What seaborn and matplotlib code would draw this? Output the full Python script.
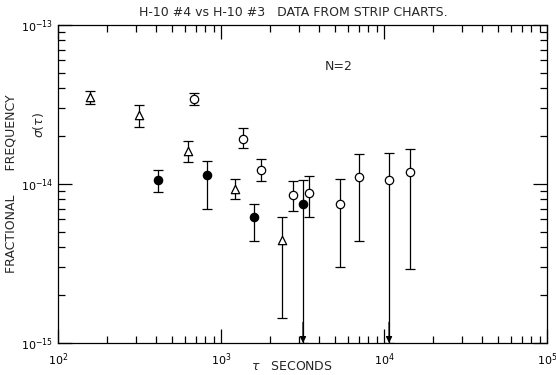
import numpy as np
import pandas as pd
import matplotlib
matplotlib.use("Agg")
import matplotlib.pyplot as plt
import seaborn as sns
from matplotlib.ticker import LogLocator, NullFormatter

# ---- data ----
tri_tau = [158, 312, 625, 1220, 2370]
tri_sig = [3.52e-14, 2.72e-14, 1.61e-14, 9.3e-15, 4.44e-15]
tri_hi = [3.85e-14, 3.14e-14, 1.86e-14, 1.07e-14, 6.2e-15]
tri_lo = [3.19e-14, 2.28e-14, 1.37e-14, 8.05e-15, 1.44e-15]

open_tau = [683, 1365, 1760, 2765, 3470, 5370, 7030, 10740, 14440]
open_sig = [3.42e-14, 1.92e-14, 1.23e-14, 8.53e-15, 8.78e-15, 7.49e-15, 1.11e-14, 1.06e-14, 1.19e-14]
open_hi = [3.74e-14, 2.25e-14, 1.44e-14, 1.04e-14, 1.12e-14, 1.07e-14, 1.55e-14, 1.57e-14, 1.66e-14]
open_lo = [3.14e-14, 1.68e-14, 1.04e-14, 6.76e-15, 6.2e-15, 3.0e-15, 4.38e-15, np.nan, 2.92e-15]

fill_tau = [410, 820, 1594, 3185]
fill_sig = [1.06e-14, 1.14e-14, 6.2e-15, 7.49e-15]
fill_hi = [1.23e-14, 1.40e-14, 7.49e-15, 1.06e-14]
fill_lo = [8.9e-15, 6.97e-15, 4.38e-15, np.nan]   # nan: error bar runs off the bottom (arrow)

x_ticks = [1e2, 1e3, 1e4, 1e5]
y_ticks = [1e-15, 1e-14, 1e-13]
title = "H-10 #4 vs H-10 #3   DATA FROM STRIP CHARTS."
note = "N=2"

# ---- assemble ----
frames = []
for kind, t, s, h, l in [("tri", tri_tau, tri_sig, tri_hi, tri_lo),
                         ("open", open_tau, open_sig, open_hi, open_lo),
                         ("fill", fill_tau, fill_sig, fill_hi, fill_lo)]:
    frames.append(pd.DataFrame({"tau": t, "sigma": s, "hi": h, "lo": l, "kind": kind}))
df = pd.concat(frames, ignore_index=True)

sns.set_style("ticks")
plt.rcParams["font.family"] = ["DejaVu Sans"]
plt.rcParams["mathtext.fontset"] = "dejavusans"

fig = plt.figure(figsize=(5.56, 3.75), dpi=100)
ax = fig.add_axes([58/556, 1-343/375, 489/556, 318/375])
ax.set_xscale("log")
ax.set_yscale("log")
ymin, ymax = y_ticks[0], y_ticks[-1]
ax.set_xlim(x_ticks[0], x_ticks[-1])
ax.set_ylim(ymin, ymax)

lw = 0.9
# error bars
for _, r in df.iterrows():
    lo = r["lo"] if not np.isnan(r["lo"]) else ymin
    ax.errorbar([r["tau"]], [r["sigma"]],
                yerr=[[r["sigma"] - lo], [r["hi"] - r["sigma"]]],
                fmt="none", ecolor="black", elinewidth=lw, capsize=3.5,
                capthick=lw, zorder=2)
    if np.isnan(r["lo"]):
        ax.annotate("", xy=(r["tau"], ymin), xytext=(r["tau"], ymin * 1.35),
                    arrowprops=dict(arrowstyle="-|>", color="black", lw=lw,
                                    mutation_scale=9, shrinkA=0, shrinkB=0),
                    zorder=3, annotation_clip=False)

styles = {"tri": dict(marker="^", facecolor="white"),
          "open": dict(marker="o", facecolor="white"),
          "fill": dict(marker="o", facecolor="black")}
for kind, st in styles.items():
    sub = df[df["kind"] == kind]
    sns.scatterplot(data=sub, x="tau", y="sigma", ax=ax, marker=st["marker"],
                    facecolor=st["facecolor"], edgecolor="black", linewidth=lw,
                    s=36, zorder=4, legend=False)

# axes styling
for sp in ax.spines.values():
    sp.set_linewidth(lw)
    sp.set_color("black")
ax.set_xticks(x_ticks)
ax.set_yticks(y_ticks)
ax.xaxis.set_minor_locator(LogLocator(base=10, subs=np.arange(2, 10)))
ax.yaxis.set_minor_locator(LogLocator(base=10, subs=np.arange(2, 10)))
ax.xaxis.set_minor_formatter(NullFormatter())
ax.yaxis.set_minor_formatter(NullFormatter())
ax.tick_params(which="both", direction="in", top=True, right=True, colors="black",
               labelsize=8, width=lw)
ax.tick_params(which="major", length=10)
ax.tick_params(which="minor", length=5)
ax.tick_params(axis="x", which="major", pad=6)

ax.set_xlabel(r"$\tau$   SECONDS", fontsize=9, va="center")
ax.xaxis.set_label_coords((292-58)/489, (343-366)/318)
ax.set_ylabel("FRACTIONAL      FREQUENCY", fontsize=9)
ax.yaxis.set_label_coords(-0.083, 0.5)
fig.text(38/556, 1-125/375, r"$\sigma(\tau)$", rotation=90, fontsize=9,
         ha="center", va="center")

fig.text(293/556, 1-13/375, title, fontsize=9, ha="center", va="center")
fig.text(325/556, 1-67/375, note, fontsize=9, ha="left", va="center")

fig.savefig("out.png", dpi=100)
